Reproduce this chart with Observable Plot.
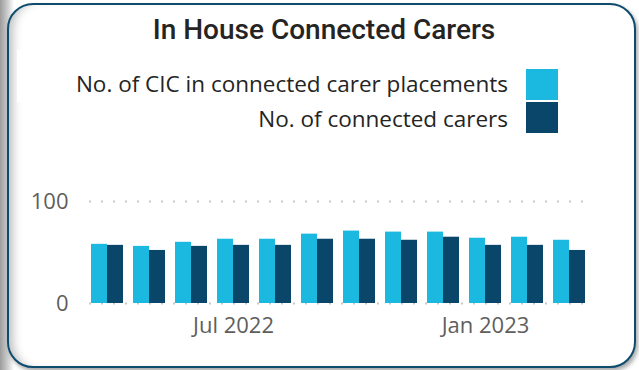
<!DOCTYPE html>
<html>
<head>
<meta charset="utf-8">
<script src="https://cdn.jsdelivr.net/npm/d3@7"></script>
<script src="https://cdn.jsdelivr.net/npm/@observablehq/plot@0.6"></script>
<style>
  html, body { margin: 0; padding: 0; width: 639px; height: 370px; overflow: hidden;
    background: linear-gradient(to right, #9c9c9c 0px, #d0d0d0 8px, #ffffff 14px); }
  #card { position: absolute; left: 7px; top: 3px; width: 625px; height: 361px;
    border: 2px solid #0e4c6f; border-radius: 26px; background: #fff;
    box-shadow: inset 10px 0 10px -6px rgba(0,0,0,0.25), 2px 3px 4px rgba(0,0,0,0.35); }
  #title { position: absolute; left: 0; width: 648px; top: 16px; text-align: center; line-height: 1;
    font-family: Roboto, sans-serif; font-weight: 500; font-size: 28px; color: #252423; }
  #legendbox { position: absolute; left: 17px; top: 50px; width: 500px; height: 52px; background: #fff; }
  .leg { position: absolute; right: 131px; font-family: "Open Sans", sans-serif; font-size: 22.5px; line-height: 1; color: #252423; white-space: nowrap; }
  .sw { position: absolute; left: 526px; width: 32px; height: 31px; }
  #chart { position: absolute; left: 0; top: 190px; }
  #chart svg g[aria-label='x-axis tick label'] { font-size: 22px; fill: #605e5c; }
  #chart svg g[aria-label='y-axis tick label'] { font-size: 22px; fill: #605e5c; }
</style>
</head>
<body>
<div id="card"></div>
<div id="legendbox"></div>
<div id="title">In House Connected Carers</div>
<div class="leg" style="top:73px">No. of CIC in connected carer placements</div>
<div class="leg" style="top:108px">No. of connected carers</div>
<div class="sw" style="top:69px;background:#1bb9df"></div>
<div class="sw" style="top:102px;background:#0a466a"></div>
<div id="chart"></div>
<script>
const months = ["2022-04","2022-05","2022-06","2022-07","2022-08","2022-09","2022-10","2022-11","2022-12","2023-01","2023-02","2023-03"];
const cicPlacements = [58, 56, 60, 63, 63, 68, 71, 70, 70, 64, 65, 62];
const connectedCarers = [57, 52, 56, 57, 57, 63, 63, 62, 65, 57, 57, 52];
const tickMonths = ["2022-07", "2023-01"];
const tickLabels = ["Jul 2022", "Jan 2023"];
const yTicks = [0, 100];

const data = months.map((m, i) => ({month: m, cic: cicPlacements[i], carers: connectedCarers[i]}));

const chart = Plot.plot({
  width: 639,
  height: 160,
  marginLeft: 89,
  marginRight: 53,
  marginTop: 11,
  marginBottom: 47,
  style: {fontFamily: "'Open Sans', sans-serif", background: "transparent", overflow: "visible"},
  x: {type: "band", domain: months, paddingInner: 0.243, paddingOuter: 0, label: null,
      ticks: tickMonths, tickFormat: d => tickLabels[tickMonths.indexOf(d)], tickSize: 0, tickPadding: 14},
  y: {domain: [0, 100], ticks: yTicks, label: null, tickSize: 0, tickPadding: 21},
  marks: [
    Plot.ruleY(yTicks, {stroke: "#c8c8c8", strokeWidth: 2, strokeDasharray: "2,10"}),
    Plot.barY(data, {x: "month", y: "cic", fill: "#1bb9df", insetRight: 16}),
    Plot.barY(data, {x: "month", y: "carers", fill: "#0a466a", insetLeft: 16})
  ]
});
document.getElementById("chart").appendChild(chart);
</script>
</body>
</html>
